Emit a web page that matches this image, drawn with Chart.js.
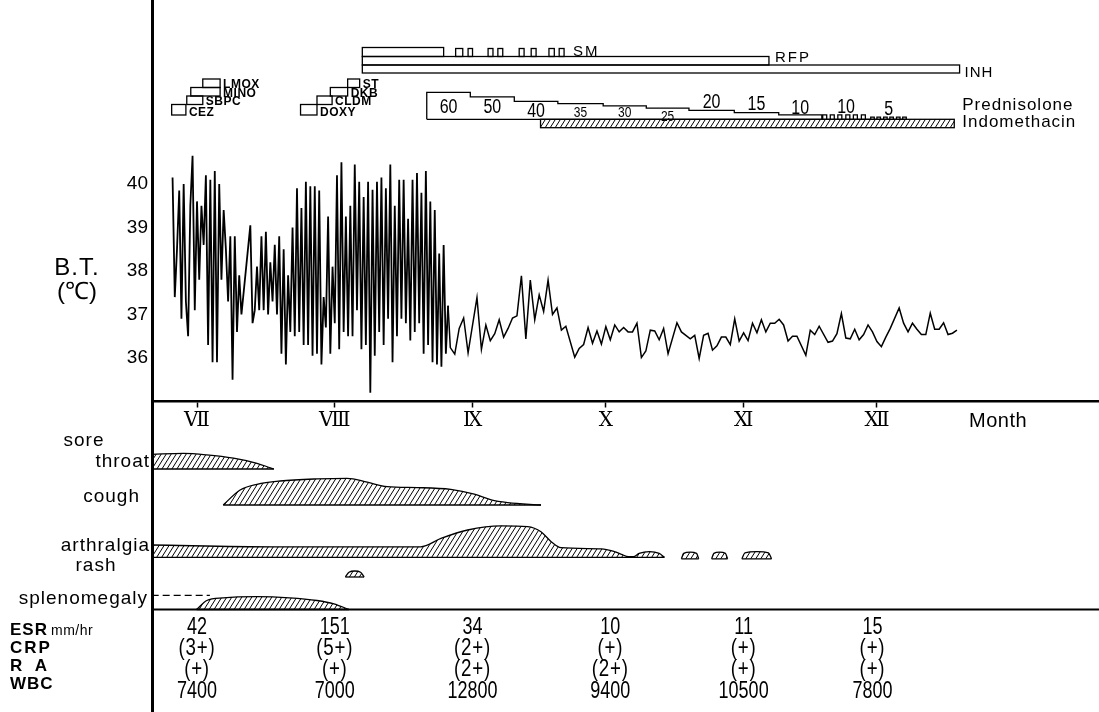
<!DOCTYPE html>
<html>
<head>
<meta charset="utf-8">
<script src="https://cdn.jsdelivr.net/npm/chart.js@4.4.1/dist/chart.umd.min.js"></script>
<style>
  html, body { margin: 0; padding: 0; background: #fff; }
  canvas { display: block; }
</style>
</head>
<body>
<canvas id="chart" width="1099" height="712"></canvas>
<script>
// day 0 = 1 July
var monthDays = [0, 31, 62, 92, 123, 153];
var monthNames = ['Ⅶ', 'Ⅷ', 'Ⅸ', 'Ⅹ', 'Ⅺ', 'Ⅻ'];
var tempTicks = [36, 37, 38, 39, 40];

// body temperature, read twice a day until late August
var btTwiceStart = -5.5;
var btTwice = [
  40.15, 37.4, 38.5, 39.85, 36.9, 40.0, 37.3, 36.5, 39.5, 40.65,
  37.1, 39.6, 37.8, 39.5, 38.6, 40.2, 36.3, 40.1, 35.9, 40.3,
  35.9, 40.0, 37.8, 39.4, 38.5, 37.3, 38.8, 35.5, 38.8, 36.6,
  37.9, 37.0, null, null, null, 39.05, 36.8, 37.1, 38.1, 37.1,
  38.8, 37.1, 38.9, 37.0, 38.2, 37.3, 38.6, 37.0, 38.8, 36.1,
  38.5, 35.85, 37.9, 36.6, 39.0, 36.5, 39.9, 36.6, 39.45, 36.3,
  40.05, 36.3, 39.95, 36.05, 39.95, 36.1, 39.85, 35.85, 37.4, 36.7,
  39.25, 36.1, 38.1, 36.8, 40.2, 36.2, 40.5, 36.6, 39.25, 36.5,
  39.5, 36.5, 40.45, 37.1, 40.05, 36.2, 39.7, 36.3, 40.05, 35.2,
  39.87, 36.05, 40.05, 36.6, 40.15, 36.3, 39.9, 36.9, 40.45, 35.9,
  39.5, 36.5, 40.1, 36.9, 40.1, 36.8, 39.2, 36.4, 40.1, 36.6,
  40.25, 36.8, 39.8, 36.1, 40.3, 36.3, 39.6, 35.9, 39.4, 35.85,
  38.4, 35.8, 38.6, 36.1, 37.2
];
// then once a day
var btDailyStart = 57;
var btDaily = [
  36.24, 36.09, 36.68, 36.92, 36.12, null, 37.39, 36.2, 36.76, 36.4,
  36.56, 36.88, 36.48, 36.68, 36.92, 36.97, 37.89, 36.44, 37.79, 36.88,
  37.45, 37.07, 37.79, 37.0, 37.15, 36.64, 36.73, null, 36.02, 36.22,
  36.31, 36.7, 36.34, 36.62, 36.32, 36.72, 36.42, 36.76, 36.6, 36.7,
  36.6, 36.6,
  36.8, 36.01, 36.16, 36.64, 36.62, 36.42, 36.68, 36.1, null, 36.81,
  36.6, 36.52, 36.44, 36.52, 35.99, 36.52, 36.57, 36.18, 36.28, 36.48,
  36.48, 36.31, 36.9, 36.39, 36.58, 36.4, 36.8, 36.58, 36.88, 36.6,
  36.8, 36.8, 36.89, 36.76, 36.39, 36.5, 36.5, null, 36.06, 36.64,
  36.54, 36.73, null, 36.36, 36.39, 36.56, 37.02, 36.46, 36.44, 36.66,
  36.42, 36.54, 36.76, 36.6, 36.38, 36.26, 36.48, 36.68, null, 37.15,
  36.8, 36.6, 36.8, 36.66, 36.54, 36.54, 37.03, 36.66, 36.66, 36.81,
  36.54, 36.57, 36.64
];

// antibiotics (stair steps), level = step in the stair
var abxNames = ['CEZ', 'SBPC', 'MINO', 'LMOX', 'DOXY', 'CLDM', 'DKB', 'ST'];
var abxStart = [-5.7, -2.3, -1.4, 1.3, 23.3, 27.0, 30.0, 33.9];
var abxEnd = [-2.5, 1.3, 5.2, 5.2, 27.0, 30.4, 33.9, 36.6];
var abxLevel = [0, 1, 2, 3, 0, 1, 2, 3];

// antituberculous drugs
var smStart = 37.2, smEnd = 55.5;
var smPulseStart = [58.2, 61.0, 65.5, 67.7, 72.5, 75.2, 79.2, 81.5];
var smPulseEnd = [59.8, 62.0, 66.6, 68.8, 73.6, 76.3, 80.4, 82.6];
var rfpStart = 37.2, rfpEnd = 128.7;
var inhStart = 37.2, inhEnd = 171.6;

// prednisolone (mg/day)
var predStart = [51.7, 61.5, 71.4, 81.2, 91.4, 101.1, 110.7, 120.9, 130.9, 140.6, 151.5];
var predDose = [60, 50, 40, 35, 30, 25, 20, 15, 10, 10, 5];
var predAlt = [false, false, false, false, false, false, false, false, false, true, true];
var predEnd = 159.8;
var predPulseStart = [140.8, 142.5, 144.2, 146.0, 147.7, 149.5, 151.6, 153.0, 154.5, 155.9, 157.4, 158.8];
var predPulseEnd = [141.7, 143.4, 145.1, 146.9, 148.6, 150.4, 152.4, 153.8, 155.3, 156.7, 158.2, 159.6];
var predPulseDose = [10, 10, 10, 10, 10, 10, 5, 5, 5, 5, 5, 5];
var indoStart = 77.3, indoEnd = 170.4;

// symptoms: day and relative intensity
var symptomNames = ['sore throat', 'cough', 'arthralgia', 'rash', 'splenomegaly'];
var soreDays = [-10.2, -3.1, 2.2, 8.2, 13.5, 16.5, 17.3];
var soreLevel = [4.9, 5.2, 4.7, 3.6, 1.9, 0.4, 0];
var coughDays = [5.9, 9.7, 13.5, 18.7, 27.0, 33.8, 38.3, 42.8, 49.6, 57.1, 62.4, 66.2, 69.9, 77.4];
var coughLevel = [0, 5, 6.9, 8, 8.7, 8.9, 7.6, 6.1, 5.8, 5.2, 3.6, 1.7, 0.8, 0];
var arthDays = [-10.2, 17.2, 50.3, 54.9, 60.9, 68.4, 74.4, 77.4, 79.7, 81.9, 91, 93.9, 95.5, 97.1, 98.2, 99.5, 101.8, 104, 105.2];
var arthLevel = [4.1, 3.5, 3.5, 6.3, 9.1, 10.5, 10.2, 8.5, 5.2, 3.2, 2.8, 1.9, 1.0, 0.2, 0.2, 1.3, 1.9, 1.3, 0];
var arthBumpDays = [109, 109.5, 111, 112.4, 112.9, 114, 115.8, 116.3, 117.6, 118.9, 119.4, 121, 122.6, 123.3, 126, 128.6, 129.3];
var arthBumpLevel = [0, 1.8, 2.2, 1.8, 0, null, 0, 1.8, 2.2, 1.8, 0, null, 0, 2, 2.4, 2, 0];
var rashDays = [33.4, 34.2, 35.5, 36.8, 37.6];
var rashLevel = [0, 1.6, 2, 1.6, 0];
var splenDays = [-0.1, 2.2, 5.9, 13.5, 20.8, 27, 30.8, 34.2];
var splenLevel = [0, 3, 3.9, 4.3, 3.9, 3, 1.9, 0];
var splenDoubtDays = [-10.2, 2.9];
var splenDoubtLevel = 4.7;

// laboratory data
var labDays = [0, 31, 62, 93, 123, 152];
var esr = [42, 151, 34, 10, 11, 15];
var crp = ['3+', '5+', '2+', '+', '+', '+'];
var ra = ['+', '+', '2+', '2+', '+', '+'];
var wbc = [7400, 7000, 12800, 9400, 10500, 7800];

// ---- layout (lane axis = px from top) ----
var L = {
  abxTop: [104.5, 96, 87.5, 79], abxBottom: [115, 104.5, 96, 87.5],
  smTop: 47.5, rfpTop: 56.5, inhTop: 65, inhBottom: 73,
  predBase: 119.3, mgPx: 0.45, indoBottom: 127.7,
  symUnit: 3, symBase: [469, 505, 557.3, 577, 609.5],
  tableLine: 609.5, labRows: [627, 648, 669, 691],
  predLabelY: [113, 113, 117, 117, 117, 121, 108, 110, 114, 113, 115],
  predLabelSize: [20, 20, 20, 15, 15, 15, 20, 20, 20, 20, 20]
};
var H = 712;
var SANS = "'Liberation Sans', Arial, sans-serif";

function hatch() {
  var p = document.createElement('canvas');
  p.width = 5; p.height = 8;
  var g = p.getContext('2d');
  g.strokeStyle = '#000'; g.lineWidth = 1;
  g.beginPath();
  g.moveTo(0, 8); g.lineTo(5, 0);
  g.moveTo(-1, 1.6); g.lineTo(1, -1.6);
  g.moveTo(4, 9.6); g.lineTo(6, 6.4);
  g.stroke();
  return g.createPattern(p, 'repeat');
}
var pattern = hatch();

function twicePoints() {
  return btTwice.map(function (v, i) { return {x: btTwiceStart + i * 0.5, y: v}; });
}
function dailyPoints() {
  var last = btTwice.length - 1;
  var pts = [{x: btTwiceStart + last * 0.5, y: btTwice[last]}];
  btDaily.forEach(function (v, i) { pts.push({x: btDailyStart + i, y: v}); });
  return pts;
}

function symptomSets(days, levels, base) {
  var top = days.map(function (d, i) {
    return {x: d, y: levels[i] === null ? null : base - levels[i] * L.symUnit};
  });
  var bottom = [], seg = [];
  days.forEach(function (d, i) {
    if (levels[i] === null) {
      if (seg.length) bottom.push({x: seg[0], y: base}, {x: seg[seg.length - 1], y: base}, {x: d, y: null});
      seg = [];
    } else seg.push(d);
  });
  if (seg.length) bottom.push({x: seg[0], y: base}, {x: seg[seg.length - 1], y: base});
  return [
    {data: top, yAxisID: 'lane', borderColor: '#000', borderWidth: 1.3, backgroundColor: pattern,
     fill: {value: base}, cubicInterpolationMode: 'monotone', pointRadius: 0, spanGaps: false},
    {data: bottom, yAxisID: 'lane', borderColor: '#000', borderWidth: 1.3, pointRadius: 0, fill: false, spanGaps: false}
  ];
}

function predPoints() {
  var pts = [{x: predStart[0], y: 0}];
  var firstAlt = predAlt.indexOf(true);
  predStart.forEach(function (d, i) { if (!predAlt[i]) pts.push({x: d, y: predDose[i]}); });
  pts.push({x: predStart[firstAlt], y: 0});
  predPulseStart.forEach(function (d, i) {
    pts.push({x: d, y: predPulseDose[i]}, {x: predPulseEnd[i], y: 0});
  });
  pts.push({x: predEnd, y: 0}, {x: predStart[0], y: 0});
  return pts;
}

var datasets = [
  {data: twicePoints(), borderColor: '#000', borderWidth: 1.8, pointRadius: 0, tension: 0, spanGaps: true, fill: false},
  {data: dailyPoints(), borderColor: '#000', borderWidth: 1.5, pointRadius: 0, tension: 0, spanGaps: true, fill: false},
  {data: predPoints(), yAxisID: 'pred', stepped: true, borderColor: '#000', borderWidth: 1.3, pointRadius: 0, fill: false}
];
datasets = datasets
  .concat(symptomSets(soreDays, soreLevel, L.symBase[0]))
  .concat(symptomSets(coughDays, coughLevel, L.symBase[1]))
  .concat(symptomSets(arthDays, arthLevel, L.symBase[2]))
  .concat(symptomSets(arthBumpDays, arthBumpLevel, L.symBase[2] + 1.5))
  .concat(symptomSets(rashDays, rashLevel, L.symBase[3]))
  .concat(symptomSets(splenDays, splenLevel, L.symBase[4]));
datasets.push({
  data: splenDoubtDays.map(function (d) { return {x: d, y: L.symBase[4] - splenDoubtLevel * L.symUnit}; }),
  yAxisID: 'lane', borderColor: '#000', borderWidth: 1.3, borderDash: [7, 4], pointRadius: 0, fill: false
});

function txt(ctx, s, x, y, font, align, base, spacing, sx) {
  ctx.save();
  ctx.font = font;
  ctx.textAlign = align || 'left';
  ctx.textBaseline = base || 'alphabetic';
  ctx.letterSpacing = spacing || '0px';
  ctx.translate(x, y);
  ctx.scale(sx || 1, 1);
  ctx.fillText(s, 0, 0);
  ctx.restore();
}

var overlay = {
  id: 'overlay',
  beforeDraw: function (chart) {
    var c = chart.ctx;
    c.save(); c.fillStyle = '#fff'; c.fillRect(0, 0, chart.width, chart.height); c.restore();
  },
  afterDatasetsDraw: function (chart) {
    var ctx = chart.ctx, xs = chart.scales.x, ls = chart.scales.lane;
    var X = function (d) { return xs.getPixelForValue(d); };
    var Y = function (v) { return ls.getPixelForValue(v); };
    ctx.save();
    ctx.strokeStyle = '#000'; ctx.fillStyle = '#000'; ctx.lineWidth = 1.3;

    // antibiotics
    abxNames.forEach(function (n, i) {
      var lv = abxLevel[i], t = Y(L.abxTop[lv]), b = Y(L.abxBottom[lv]);
      ctx.strokeRect(X(abxStart[i]), t, X(abxEnd[i]) - X(abxStart[i]), b - t);
      txt(ctx, n, X(abxEnd[i]) + 3, b + 0.5, 'bold 12px ' + SANS, 'left', 'alphabetic', '0.5px');
    });

    // SM / RFP / INH
    ctx.strokeRect(X(smStart), Y(L.smTop), X(smEnd) - X(smStart), Y(L.rfpTop) - Y(L.smTop));
    smPulseStart.forEach(function (d, i) {
      ctx.strokeRect(X(d), Y(L.smTop + 1), X(smPulseEnd[i]) - X(d), Y(L.rfpTop) - Y(L.smTop + 1));
    });
    ctx.strokeRect(X(rfpStart), Y(L.rfpTop), X(rfpEnd) - X(rfpStart), Y(L.inhTop) - Y(L.rfpTop));
    ctx.strokeRect(X(inhStart), Y(L.inhTop), X(inhEnd) - X(inhStart), Y(L.inhBottom) - Y(L.inhTop));
    txt(ctx, 'SM', X(smPulseEnd[smPulseEnd.length - 1]) + 9, Y(L.rfpTop) - 1, '15px ' + SANS, 'left', 'alphabetic', '2px');
    txt(ctx, 'RFP', X(rfpEnd) + 6, Y(L.inhTop) - 3, '15px ' + SANS, 'left', 'alphabetic', '2px');
    txt(ctx, 'INH', X(inhEnd) + 5, Y(L.inhBottom) + 3.5, '15px ' + SANS, 'left', 'alphabetic', '1px');

    // indomethacin
    var it = Y(L.predBase), ib = Y(L.indoBottom);
    ctx.fillStyle = pattern;
    ctx.fillRect(X(indoStart), it, X(indoEnd) - X(indoStart), ib - it);
    ctx.fillStyle = '#000';
    ctx.strokeRect(X(indoStart), it, X(indoEnd) - X(indoStart), ib - it);

    // prednisolone doses
    predDose.forEach(function (v, i) {
      var e = i + 1 < predStart.length ? predStart[i + 1] : predEnd;
      txt(ctx, String(v), X((predStart[i] + e) / 2), L.predLabelY[i], L.predLabelSize[i] + 'px ' + SANS, 'center', 'alphabetic', '0px', 0.8);
    });
    txt(ctx, 'Prednisolone', X(indoEnd) + 8, 110, '17px ' + SANS, 'left', 'alphabetic', '1px');
    txt(ctx, 'Indomethacin', X(indoEnd) + 8, 127, '17px ' + SANS, 'left', 'alphabetic', '1px');

    // temperature axis title, month label
    txt(ctx, 'B.T.', 77, 268, '24px ' + SANS, 'center', 'middle', '1px');
    txt(ctx, '(℃)', 77, 292, '24px ' + SANS, 'center', 'middle');
    txt(ctx, 'Month', 969, 421, '20px ' + SANS, 'left', 'middle', '0.5px');

    // symptom labels
    var sf = '19px ' + SANS;
    txt(ctx, 'sore', 84, 446, sf, 'center', 'alphabetic', '1px');
    txt(ctx, 'throat', 150, 467, sf, 'right', 'alphabetic', '1px');
    txt(ctx, symptomNames[1], 140, 502, sf, 'right', 'alphabetic', '1px');
    txt(ctx, symptomNames[2], 150, 551, sf, 'right', 'alphabetic', '1px');
    txt(ctx, symptomNames[3], 96, 571, sf, 'center', 'alphabetic', '1px');
    txt(ctx, symptomNames[4], 148, 604, sf, 'right', 'alphabetic', '1px');

    // table
    ctx.lineWidth = 2;
    ctx.beginPath();
    ctx.moveTo(chart.chartArea.left, Y(L.tableLine));
    ctx.lineTo(chart.chartArea.right, Y(L.tableLine));
    ctx.stroke();
    var lf = 'bold 17px ' + SANS;
    txt(ctx, 'ESR', 10, 634.5, lf, 'left', 'alphabetic', '1px');
    txt(ctx, 'mm/hr', 51, 634.5, '14px ' + SANS, 'left', 'alphabetic', '0.5px');
    txt(ctx, 'CRP', 10, 652.5, lf, 'left', 'alphabetic', '2px');
    txt(ctx, 'R  A', 10, 670.5, lf, 'left', 'alphabetic', '1px');
    txt(ctx, 'WBC', 10, 688.5, lf, 'left', 'alphabetic', '1px');
    var vf = '24px ' + SANS;
    labDays.forEach(function (d, i) {
      var x = X(d);
      txt(ctx, String(esr[i]), x, L.labRows[0], vf, 'center', 'middle', '0px', 0.75);
      txt(ctx, '(' + crp[i] + ')', x, L.labRows[1], vf, 'center', 'middle', '1px', 0.78);
      txt(ctx, '(' + ra[i] + ')', x, L.labRows[2], vf, 'center', 'middle', '1px', 0.78);
      txt(ctx, String(wbc[i]), x, L.labRows[3], vf, 'center', 'middle', '0px', 0.75);
    });
    ctx.restore();
  }
};

var yMax = 40 + 184 / 43.5;
var yMin = yMax - H / 43.5;
var predMax = L.predBase / L.mgPx;

new Chart(document.getElementById('chart'), {
  type: 'line',
  data: {datasets: datasets},
  options: {
    responsive: false,
    animation: false,
    events: [],
    layout: {padding: 0},
    plugins: {legend: {display: false}, tooltip: {enabled: false}},
    scales: {
      x: {
        type: 'linear', min: -45 / 4.444, max: 902 / 4.444,
        position: {y: 35},
        afterBuildTicks: function (s) { s.ticks = monthDays.map(function (v) { return {value: v}; }); },
        afterFit: function (s) { s.paddingLeft = 0; s.paddingRight = 0; },
        ticks: {
          autoSkip: false, maxRotation: 0, padding: 2, color: '#000',
          font: {family: "'DejaVu Serif', 'Noto Sans CJK JP', serif", size: 20},
          callback: function (v, i) { return monthNames[i]; }
        },
        grid: {drawOnChartArea: false, drawTicks: true, tickLength: 5, tickWidth: 1.5, tickColor: '#000', color: '#000'},
        border: {display: true, color: '#000', width: 2.5}
      },
      y: {
        type: 'linear', position: 'left', min: yMin, max: yMax,
        afterBuildTicks: function (s) { s.ticks = tempTicks.map(function (v) { return {value: v}; }); },
        afterFit: function (s) { s.width = 152; s.paddingTop = 0; s.paddingBottom = 0; },
        ticks: {padding: 4, color: '#000', font: {family: SANS, size: 19}, callback: function (v) { return String(v); }},
        grid: {display: false, drawTicks: false},
        border: {display: true, color: '#000', width: 3}
      },
      lane: {type: 'linear', position: 'right', display: false, min: 0, max: H, reverse: true},
      pred: {type: 'linear', position: 'right', display: false, min: predMax - H / L.mgPx, max: predMax}
    }
  },
  plugins: [overlay]
});
</script>
</body>
</html>
